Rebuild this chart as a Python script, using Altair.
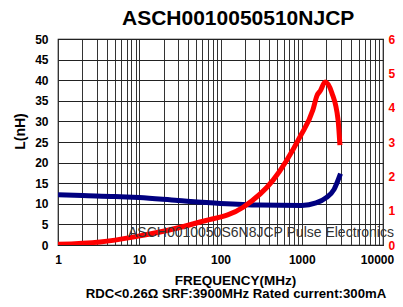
import altair as alt
import pandas as pd

# Inductance L(nH) vs frequency
freq_L = [1, 2, 5, 10, 30, 100, 300, 1000, 1500, 2000, 2500, 3000]
L_vals = [12.2, 12.0, 11.8, 11.5, 10.8, 10.1, 9.7, 9.6, 10.2, 11.5, 13.5, 17.3]

# Q vs frequency (right axis)
freq_Q = [1, 3.3, 8.4, 56, 190, 444, 950, 1370, 1540, 1700, 1940, 2350, 2800, 2950]
Q_vals = [0.2, 0.9, 2.3, 6.7, 11, 18.9, 31.5, 39.3, 43.5, 45.0, 47.5, 44.3, 36.4, 29.1]

x_grid = [m * 10 ** k for k in range(4) for m in range(1, 10)] + [10000]
y_left_ticks = list(range(0, 51, 5))
y_right_ticks = list(range(0, 61, 10))

title_text = "ASCH0010050510NJCP"
x_title = "FREQUENCY(MHz)"
sub_text = "RDC<0.26\u03a9 SRF:3900MHz Rated current:300mA"
watermark = "ASCH0010050S6N8JCP Pulse Electronics"

dfL = pd.DataFrame({"f": freq_L, "L": L_vals})
dfQ = pd.DataFrame({"f": freq_Q, "Q": Q_vals})

xs = alt.Scale(type="log", domain=[1, 10000], nice=False)
xaxis = alt.Axis(
    values=x_grid, format="d",
    labelExpr="indexof(['1','10','100','1000','10000'], datum.label) >= 0 ? datum.label : ''",
    labelOffset={"expr": "datum.value == 10000 ? -6 : 0"},
    grid=True, gridColor="#333", gridOpacity=1, gridWidth=1,
    ticks=False, domain=False, labelPadding=9,
    labelFontSize=12, labelFontWeight="bold", labelColor="black",
    title=x_title, titleFontSize=13.5, titleFontWeight="bold", titleColor="black",
    titleX=177, titleY=39, titleBaseline="alphabetic", titleAlign="center",
    labelFlush=False,
)

lineL = alt.Chart(dfL).mark_line(color="#000080", strokeWidth=5, interpolate="monotone", clip=True).encode(
    x=alt.X("f:Q", scale=xs, axis=xaxis),
    y=alt.Y("L:Q", scale=alt.Scale(domain=[0, 50], nice=False),
            axis=alt.Axis(values=y_left_ticks, grid=True, gridColor="#222", gridOpacity=1,
                          ticks=False, domain=False, labelPadding=10,
                          labelFontSize=12, labelFontWeight="bold", labelColor="black",
                          title="L(nH)", titleFontSize=14, titleFontWeight="bold", titleColor="black",
                          titleX=-38, titleY=92, titleBaseline="middle", titleAlign="center")),
)

lineQ = alt.Chart(dfQ).mark_line(color="#ff0000", strokeWidth=5, interpolate="monotone", clip=True).encode(
    x=alt.X("f:Q", scale=xs),
    y=alt.Y("Q:Q", scale=alt.Scale(domain=[0, 60], nice=False),
            axis=alt.Axis(orient="right", values=y_right_ticks, grid=False, ticks=False, domain=False,
                          labelPadding=5, labelFontSize=12, labelFontWeight="bold", labelColor="#ff0000",
                          title=None)),
)

wm = alt.Chart(pd.DataFrame({"t": [watermark]})).mark_text(
    align="left", baseline="middle", fontSize=14, color="#333", clip=False
).encode(x=alt.value(70), y=alt.value(194), text="t:N")

sub = alt.Chart(pd.DataFrame({"t": [sub_text]})).mark_text(
    align="center", baseline="alphabetic", fontSize=13.2, fontWeight="bold", color="black", clip=False
).encode(x=alt.value(178), y=alt.value(259), text="t:N")

chart = alt.layer(lineL, lineQ, wm, sub).resolve_scale(y="independent").properties(
    width=325, height=206,
    title=alt.Title(title_text, fontSize=21, fontWeight="bold", anchor="start", frame="group", dx=64, color="black"),
    autosize=alt.AutoSizeParams(type="none"),
    padding={"left": 50, "top": 31, "right": 12, "bottom": 54},
).configure(font="Liberation Sans").configure_view(stroke="black", strokeWidth=1.2)

chart.save("out.html", embed_options={"renderer": "svg", "actions": False})
